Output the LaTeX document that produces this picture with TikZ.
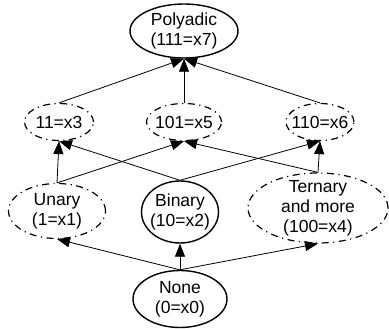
\documentclass[tikz,border=0pt]{standalone}
\usepackage{fontspec}
\setmainfont{Liberation Sans}
\usepackage{tikz}
\usetikzlibrary{shapes.geometric}
\usetikzlibrary{arrows.meta}
\tikzset{
  % node options
  arity/.style={ellipse,draw,line width=1.4pt,inner xsep=-6pt,inner ysep=-8pt,
    font=\fontsize{17.5}{20}\selectfont,align=center},
  partial/.style={arity,line width=1.2pt,dash pattern=on 7pt off 4.5pt on 1.2pt off 4.5pt},
  % path options
  implies/.style={-{Triangle[length=13pt,width=10pt]},line width=0.8pt},
}
\newcommand{\Polyadic}{\node[arity,minimum width=108pt,minimum height=54pt] (Polyadic) at (184,31) {Polyadic\\(111=x7)};}
\newcommand{\xthree}{\node[partial,minimum width=69pt,minimum height=37pt] (x3) at (59,122) {11=x3};}
\newcommand{\xfive}{\node[partial,minimum width=75pt,minimum height=37pt] (x5) at (184,122) {101=x5};}
\newcommand{\xsix}{\node[partial,minimum width=68pt,minimum height=37pt] (x6) at (320,122) {110=x6};}
\newcommand{\Unary}{\node[partial,minimum width=97pt,minimum height=55pt] (Unary) at (57,211) {Unary\\(1=x1)};}
\newcommand{\Binary}{\node[arity,minimum width=77pt,minimum height=62pt] (Binary) at (180,212) {Binary\\(10=x2)};}
\newcommand{\Ternary}{\node[partial,minimum width=140pt,minimum height=70pt] (Ternary) at (318,208) {Ternary\\and more\\(100=x4)};}
\newcommand{\None}{\node[arity,minimum width=94pt,minimum height=57pt] (None) at (180,299) {None\\(0=x0)};}
\begin{document}
\begin{tikzpicture}[x=1pt,y=-1pt]
    \useasboundingbox (0,0) rectangle (389,329);
    \Polyadic
    \xthree \xfive \xsix
    \Unary \Binary \Ternary
    \None
    \draw[implies] (None.north) -- (Unary.south);
    \draw[implies] (None.north) -- (Binary.south);
    \draw[implies] (None.north) -- (Ternary.south);
    \draw[implies] (Unary.north) -- (x3.south);
    \draw[implies] (Unary.north) -- (x5.south);
    \draw[implies] (Binary.north) -- (x3.south);
    \draw[implies] (Binary.north) -- (x6.south);
    \draw[implies] (Ternary.north) -- (x5.south);
    \draw[implies] (Ternary.north) -- (x6.south);
    \draw[implies] (x3.north) -- (Polyadic.south);
    \draw[implies] (x5.north) -- (Polyadic.south);
    \draw[implies] (x6.north) -- (Polyadic.south);
  \end{tikzpicture}
\end{document}
